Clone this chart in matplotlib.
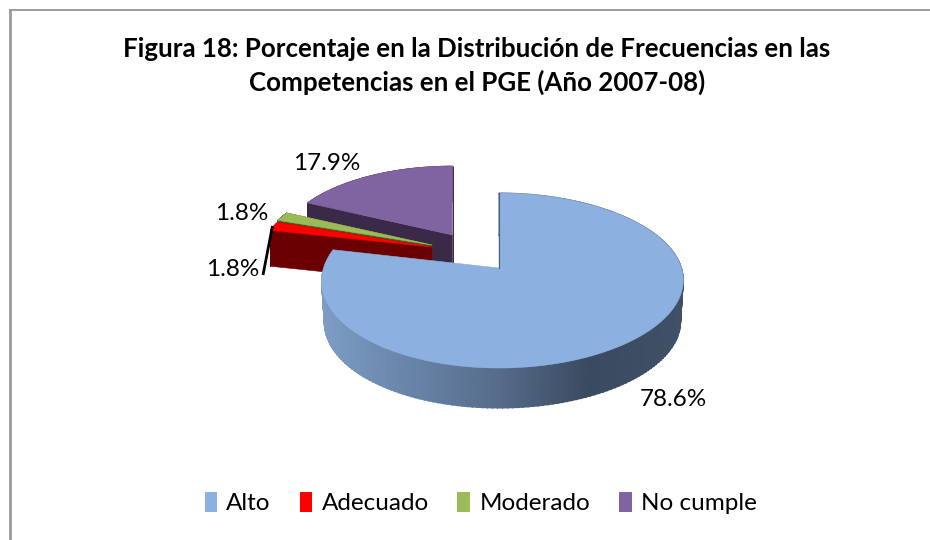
import numpy as np
import matplotlib
matplotlib.use('Agg')
import matplotlib.pyplot as plt
from matplotlib.patches import Polygon, Patch
from matplotlib.colors import LinearSegmentedColormap, Normalize

plt.rcParams['font.family'] = ['Lato', 'DejaVu Sans']

# datos de la figura
categorias = ['Alto', 'Adecuado', 'Moderado', 'No cumple']
porcentajes = [78.6, 1.8, 1.8, 17.9]
colores = ['#8CB1E0', '#FF0000', '#9BBB59', '#8064A2']
colores_lado = ['#5C7390', '#6B0000', '#4A5A2A', '#3A2A48']
titulo = 'Figura 18: Porcentaje en la Distribución de Frecuencias en las\nCompetencias en el PGE (Año 2007-08)'

# geometria del pastel, en pixeles de la figura
RX, RY, K = 179, 85.7, 0.143
vertices = [(499, 268), (432, 247), (432, 245), (452.5, 235)]
escalas_x = [1.0, 0.955, 0.955, 0.955]
escalas_y = [1.0, 0.92, 0.92, 0.92]
alturas = [41.5, 36, 36, 36]
pos_etiquetas = [(673, 400), (242, 214), (233, 270), (327, 164)]

fig = plt.figure(figsize=(9.3, 5.4), dpi=100)
ax = fig.add_axes([0, 0, 1, 1])
ax.set_xlim(0, 930)
ax.set_ylim(540, 0)
ax.axis('off')


def arco(a0, a1, centro, ex, ey, ajuste=0, n=200):
    # angulo en grados desde las 12 en sentido horario, con perspectiva
    t = np.radians(np.linspace(a0, a1, n))
    u, v = np.sin(t), np.cos(t)
    w = 1 + K * v
    x = centro[0] + ex * RX * u / w + ajuste * u ** 2
    y = centro[1] - ey * RY * v / w
    return x, y


# degradado del borde del sector grande
pos_grad = np.array([321, 400, 500, 590, 683])
norma = Normalize(321, 683)
cmap_lado = LinearSegmentedColormap.from_list(
    'lado', list(zip(norma(pos_grad), ['#7D9DC6', '#6A87AB', '#566C8A', '#3A4A60', '#3F5068'])))

angulos = np.cumsum([0] + porcentajes) / sum(porcentajes) * 360

# orden: primero los de atras
for i in [3, 2, 1, 0]:
    a0, a1 = angulos[i], angulos[i + 1]
    c = vertices[i]
    ex, ey = escalas_x[i], escalas_y[i]
    h = alturas[i]

    if i == 0:
        x, y = arco(a0, a1, c, ex, ey, ajuste=3.5)
        xb, yb = arco(a0, a1, (c[0], c[1] + h), ex * 0.985, ey * 0.985, ajuste=3.5)
        X = np.vstack([x, xb])
        Y = np.vstack([y, yb])
        ax.pcolormesh(X, Y, np.vstack([x, x]), shading='gouraud', cmap=cmap_lado, norm=norma, zorder=1)
        ax.scatter(xb, yb, c=xb, cmap=cmap_lado, norm=norma, s=1.2, linewidths=0, zorder=1)
    else:
        x, y = arco(a0, a1, c, ex, ey)
        # caras cortadas y borde exterior
        px = np.r_[c[0], x, c[0]]
        py = np.r_[c[1], y, c[1]]
        for j in range(len(px) - 1):
            seg = [(px[j], py[j]), (px[j + 1], py[j + 1]), (px[j + 1], py[j + 1] + h), (px[j], py[j] + h)]
            ax.add_patch(Polygon(seg, closed=True, fc=colores_lado[i], ec=colores_lado[i],
                                 lw=0.4, zorder=1 + (3 - i) * 2))

    cara = np.column_stack([np.r_[c[0], x], np.r_[c[1], y]])
    ax.add_patch(Polygon(cara, closed=True, fc=colores[i], ec=colores[i], lw=0.4,
                         zorder=9 if i == 0 else 2 + (3 - i) * 2))
    if i == 0:
        ax.plot([c[0], x[0]], [c[1], y[0]], color='#4A5F7A', lw=0.8, zorder=10)

# linea guia de la etiqueta de Adecuado
ax.plot([272.5, 263], [226, 275], color='black', lw=2, zorder=11, solid_capstyle='butt')

for p, (lx, ly) in zip(porcentajes, pos_etiquetas):
    ax.text(lx, ly, f'{p:.1f}%', ha='center', va='center', fontsize=17.5, color='black', zorder=12)

ax.text(477, 66, titulo, ha='center', va='center', fontsize=18.6, fontweight='bold',
        linespacing=1.44, color='black')

# marco del grafico
ax.plot([10, 10], [540, 10], color='#9A9A9A', lw=2, solid_capstyle='butt')
ax.plot([9, 930], [9.5, 9.5], color='#8A8A8A', lw=1.2, solid_capstyle='butt')

handles = [Patch(facecolor=col, edgecolor='none', label=cat) for col, cat in zip(colores, categorias)]
ax.legend(handles=handles, loc='center', bbox_to_anchor=(480.5 / 930, 1 - 503 / 540), ncol=4,
          frameon=False, fontsize=17.5, handlelength=0.53, handleheight=0.9, handletextpad=0.37,
          columnspacing=1.18, borderpad=0)

fig.savefig('out.png', dpi=100)
